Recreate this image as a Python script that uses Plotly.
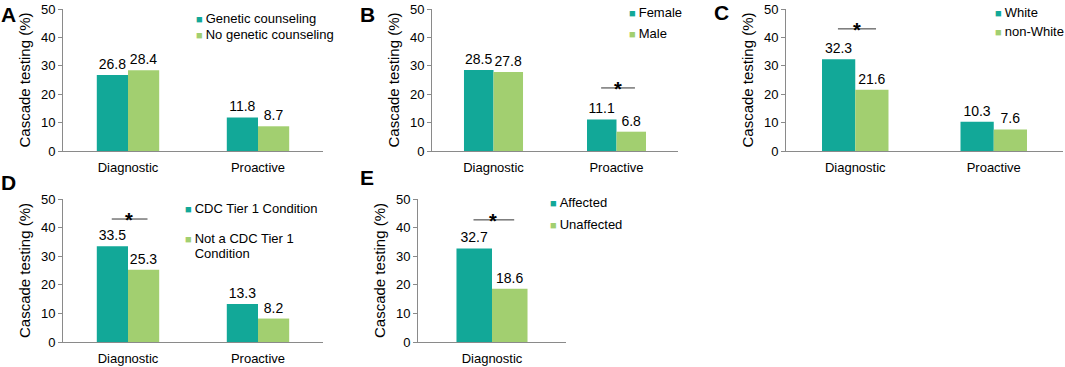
import plotly.graph_objects as go

W, H = 1065, 367

# ---------------- data ----------------
cats_A = ["Diagnostic", "Proactive"]
names_A = ["Genetic counseling", "No genetic counseling"]
teal_A = [26.8, 11.8]
green_A = [28.4, 8.7]

cats_B = ["Diagnostic", "Proactive"]
names_B = ["Female", "Male"]
teal_B = [28.5, 11.1]
green_B = [27.8, 6.8]

cats_C = ["Diagnostic", "Proactive"]
names_C = ["White", "non-White"]
teal_C = [32.3, 10.3]
green_C = [21.6, 7.6]

cats_D = ["Diagnostic", "Proactive"]
names_D = ["CDC Tier 1 Condition", "Not a CDC Tier 1<br>Condition"]
teal_D = [33.5, 13.3]
green_D = [25.3, 8.2]

cats_E = ["Diagnostic"]
names_E = ["Affected", "Unaffected"]
teal_E = [32.7]
green_E = [18.6]

panel_letters = ["A", "B", "C", "D", "E"]
# significance: (category index, bracket height) or None
sig_A = None
sig_B = (1, 22.2)
sig_C = (0, 43.0)
sig_D = (0, 43.0)
sig_E = (0, 42.7)

y_ticks = [0, 10, 20, 30, 40, 50]
y_title = "Cascade testing (%)"

TEAL = "#12A898"
GREEN = "#A2CF70"
AXIS = "#8a8a8a"
FONT = "Liberation Sans, Arial, sans-serif"


def px_x(x):
    return x / W


def px_y(y):
    return 1 - y / H


panels = [
    dict(cats=cats_A, names=names_A, t=teal_A, g=green_A, sig=sig_A,
         xd=(63, 323), yd=(151, 9), leg_x=195, leg_y=[18, 35], letter=(8, 14)),
    dict(cats=cats_B, names=names_B, t=teal_B, g=green_B, sig=sig_B,
         xd=(432, 678), yd=(151, 9), leg_x=628, leg_y=[13, 33], letter=(367, 14)),
    dict(cats=cats_C, names=names_C, t=teal_C, g=green_C, sig=sig_C,
         xd=(786, 1063), yd=(151, 9), leg_x=994, leg_y=[13, 32], letter=(721, 13)),
    dict(cats=cats_D, names=names_D, t=teal_D, g=green_D, sig=sig_D,
         xd=(63, 323), yd=(342, 199), leg_x=184, leg_y=[208, 238], letter=(9, 182)),
    dict(cats=cats_E, names=names_E, t=teal_E, g=green_E, sig=sig_E,
         xd=(418, 566), yd=(342, 199), leg_x=549, leg_y=[203, 225], letter=(367, 177)),
]

LINE_H = 15  # px between wrapped legend lines

fig = go.Figure()
annotations = []
shapes = []
layout = {}


def swatch(color):
    return f'<span style="color:{color};font-size:11px">■ </span>'


for i, p in enumerate(panels, start=1):
    sfx = "" if i == 1 else str(i)
    xa, ya = "x" + sfx, "y" + sfx
    for vals, name, col in ((p["t"], p["names"][0], TEAL), (p["g"], p["names"][1], GREEN)):
        fig.add_trace(go.Bar(
            x=p["cats"], y=vals, name=name.replace("<br>", " "),
            marker=dict(color=col, line=dict(width=0)),
            xaxis=xa, yaxis=ya, showlegend=False,
            texttemplate="%{y:.1f}", textposition="outside", constraintext="none",
            outsidetextfont=dict(size=14, color="black", family=FONT), cliponaxis=False,
        ))
    n = len(p["cats"])
    layout["xaxis" + sfx] = dict(
        domain=[px_x(p["xd"][0]), px_x(p["xd"][1])], anchor=ya,
        range=[-0.5, n - 0.5], showline=True, linecolor=AXIS, linewidth=1,
        ticks="", showgrid=False, zeroline=False, fixedrange=True,
        ticklabelstandoff=4,
        tickfont=dict(size=13, color="black", family=FONT),
    )
    layout["yaxis" + sfx] = dict(
        domain=[px_y(p["yd"][0]), px_y(p["yd"][1])], anchor=xa,
        range=[0, 50], tickvals=y_ticks, showline=True, linecolor=AXIS, linewidth=1,
        ticks="outside", ticklen=4, tickcolor=AXIS, showgrid=False, zeroline=False,
        fixedrange=True,
        tickfont=dict(size=13, color="black", family=FONT),
        title=dict(text=y_title, font=dict(size=15, color="black", family=FONT), standoff=6),
    )
    # legend (built from the series names)
    for name, col, ly in zip(p["names"], (TEAL, GREEN), p["leg_y"]):
        for k, line in enumerate(name.split("<br>")):
            sw = swatch(col if k == 0 else "rgba(0,0,0,0)")
            annotations.append(dict(
                text=sw + line, xref="paper", yref="paper",
                x=px_x(p["leg_x"]), y=px_y(ly + k * LINE_H), xanchor="left",
                yanchor="middle", showarrow=False, align="left", borderpad=0,
                font=dict(size=13, color="black", family=FONT),
            ))
    lx, ly = p["letter"]
    annotations.append(dict(
        text="<b>" + panel_letters[i - 1] + "</b>", xref="paper", yref="paper",
        x=px_x(lx), y=px_y(ly), xanchor="center", yanchor="middle", showarrow=False,
        font=dict(size=21, color="black", family=FONT),
    ))
    if p["sig"] is not None:
        ci, h = p["sig"]
        shapes.append(dict(type="line", xref=xa, yref=ya, x0=ci - 0.125, x1=ci + 0.15,
                           y0=h, y1=h, line=dict(color="#333333", width=1)))
        annotations.append(dict(
            text="<b>*</b>", xref=xa, yref=ya, x=ci + 0.01, y=h, xanchor="center",
            yanchor="middle", yshift=-1, showarrow=False,
            font=dict(size=20, color="black", family=FONT),
        ))

fig.update_layout(
    width=W, height=H, margin=dict(l=0, r=0, t=0, b=0, pad=0, autoexpand=False),
    paper_bgcolor="white", plot_bgcolor="white", showlegend=False,
    barmode="group", bargap=0.52, bargroupgap=0,
    font=dict(family=FONT, size=13, color="black"),
    annotations=annotations, shapes=shapes, **layout,
)

fig.write_html(
    "out.html",
    config={"displayModeBar": False},
    post_script="document.body.style.margin='0';document.body.style.overflow='hidden';",
)
